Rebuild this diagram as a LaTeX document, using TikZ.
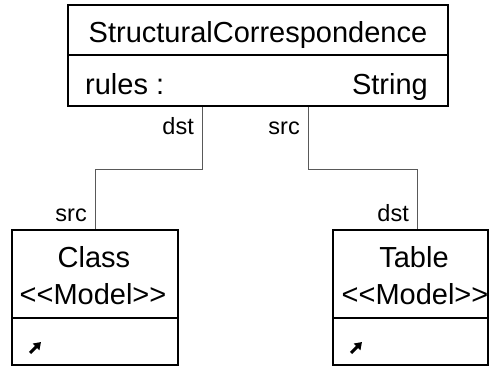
\documentclass[tikz,border=0pt]{standalone}
\usepackage{fontspec}
\setmainfont{Liberation Sans}
\usetikzlibrary{arrows.meta,positioning}

\tikzset{
  umlbox/.style={draw=black, line width=2pt, rectangle, inner sep=0pt, fill=white},
  compline/.style={draw=black, line width=2pt},
  assoc/.style={draw=black!65, line width=1pt},
  rolelabel/.style={font=\fontsize{23.5}{26}\selectfont, anchor=base east, inner sep=0pt},
  headtext/.style={font=\fontsize{29}{33}\selectfont, inner sep=0pt, anchor=base},
  opicon/.style={line width=3pt, -{Triangle[length=7pt,width=9pt]}}
}

\begin{document}
\begin{tikzpicture}[x=1pt,y=-1pt]
  \useasboundingbox (0,0) rectangle (491,366);
  % class boxes
  \node[umlbox, minimum width=380pt, minimum height=101pt] (sc) at (258,55.5) {};
  \node[umlbox, minimum width=166pt, minimum height=135pt] (cls) at (95,297.5) {};
  \node[umlbox, minimum width=155pt, minimum height=135pt] (tbl) at (410.5,297.5) {};
  \draw[compline] (sc.west |- 0,55) -- (sc.east |- 0,55);
  \draw[compline] (cls.west |- 0,318) -- (cls.east |- 0,318);
  \draw[compline] (tbl.west |- 0,318) -- (tbl.east |- 0,318);
  % texts
  \node[headtext] (sctitle) at (258,43) {StructuralCorrespondence};
  \node[headtext, anchor=base west] (scattr) at (85,95) {rules :};
  \node[headtext, anchor=base east] (sctype) at (428,95) {String};
  \node[headtext] (clsname) at (94,268) {Class};
  \node[headtext] (clsstereo) at (93,305) {<{}<Model>{}>};
  \node[headtext] (tblname) at (414,268) {Table};
  \node[headtext] (tblstereo) at (415,305) {<{}<Model>{}>};
  % associations
  \draw[assoc] ([xshift=-56pt]sc.south) -- ++(0,63) -| (cls.north);
  \draw[assoc] ([xshift=50pt]sc.south) -- ++(0,63) -| ([xshift=6.5pt]tbl.north);
  \node[rolelabel] (dstleft) at (194,135) {dst};
  \node[rolelabel] (srcright) at (300,135) {src};
  \node[rolelabel] (srcleft) at (87,222) {src};
  \node[rolelabel] (dstright) at (409,222) {dst};
  % operation icons
  \draw[opicon] ([shift={(19,-13)}]cls.south west) -- ++(11,-11);
  \draw[opicon] ([shift={(19,-13)}]tbl.south west) -- ++(11,-11);
\end{tikzpicture}
\end{document}
